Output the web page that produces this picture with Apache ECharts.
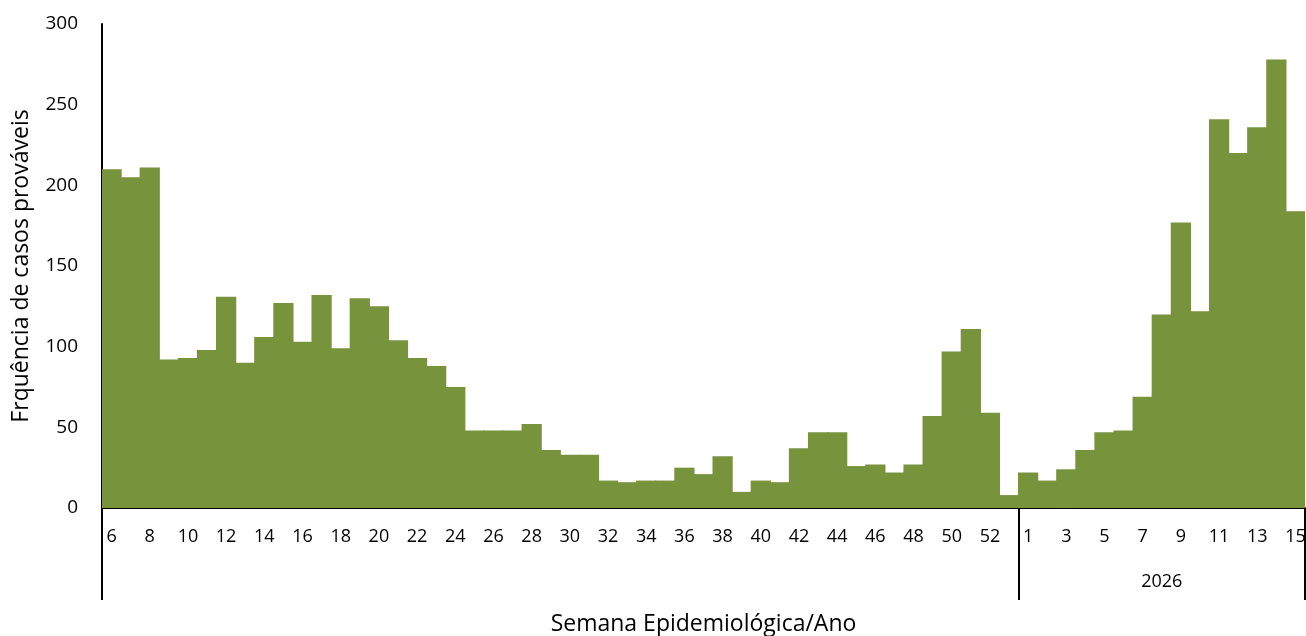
<!DOCTYPE html>
<html>
<head>
<meta charset="utf-8">
<script src="https://cdn.jsdelivr.net/npm/echarts@6/dist/echarts.min.js"></script>
<style>
html,body{margin:0;padding:0;background:#fff;}
#chart{width:1306px;height:636px;}
</style>
</head>
<body>
<div id="chart"></div>
<script>
// Epidemiological weeks (first year: weeks 6-53, then 2026: weeks 1-15)
const weeksYear1 = [6,7,8,9,10,11,12,13,14,15,16,17,18,19,20,21,22,23,24,25,26,27,28,29,30,31,32,33,34,35,36,37,38,39,40,41,42,43,44,45,46,47,48,49,50,51,52,53];
const casesYear1 = [210,205,211,92,93,98,131,90,106,127,103,132,99,130,125,104,93,88,75,48,48,48,52,36,33,33,17,16,17,17,25,21,32,10,17,16,37,47,47,26,27,22,27,57,97,111,59,8];
const weeksYear2 = [1,2,3,4,5,6,7,8,9,10,11,12,13,14,15];
const casesYear2 = [22,17,24,36,47,48,69,120,177,122,241,220,236,278,184];
const yearLabels = ['', '2026'];
const yTicks = [0, 50, 100, 150, 200, 250, 300];

const categories = weeksYear1.map(String).concat(weeksYear2.map(String));
const values = casesYear1.concat(casesYear2);
const groupSizes = [weeksYear1.length, weeksYear2.length];
const groupStarts = [0, weeksYear1.length];
const groupMid = groupStarts.map((s, i) => s + Math.floor(groupSizes[i] / 2));

const FONT = 'Open Sans';
const BAR = '#77933C';
const chart = echarts.init(document.getElementById('chart'));
chart.setOption({
  animation: false,
  backgroundColor: '#ffffff',
  textStyle: { fontFamily: FONT, color: '#000' },
  grid: { left: 102, right: 1, top: 24, bottom: 128, containLabel: false, outerBoundsMode: 'none' },
  xAxis: [
    {
      type: 'category',
      data: categories,
      position: 'bottom',
      boundaryGap: true,
      axisLine: { show: true, lineStyle: { color: '#000', width: 2 } },
      axisTick: { show: false },
      axisLabel: { interval: 1, fontSize: 18, color: '#000', margin: 20, fontFamily: FONT },
      name: 'Semana Epidemiológica/Ano',
      nameLocation: 'middle',
      nameGap: 105,
      nameTextStyle: { fontSize: 23, color: '#000', fontFamily: FONT }
    },
    {
      type: 'category',
      data: categories,
      position: 'bottom',
      boundaryGap: true,
      axisLine: { show: false },
      axisTick: {
        show: true,
        length: 92,
        interval: (idx) => groupStarts.indexOf(idx) >= 0,
        lineStyle: { color: '#000', width: 2 }
      },
      axisLabel: {
        interval: (idx) => groupMid.indexOf(idx) >= 0,
        formatter: (val, idx) => { const g = groupMid.indexOf(idx); return g >= 0 ? yearLabels[g] : ''; },
        fontSize: 18, color: '#000', margin: 65, fontFamily: FONT
      }
    }
  ],
  yAxis: {
    type: 'value',
    min: yTicks[0],
    max: yTicks[yTicks.length - 1],
    interval: yTicks[1] - yTicks[0],
    axisLine: { show: true, lineStyle: { color: '#000', width: 2 } },
    axisTick: { show: false },
    splitLine: { show: false },
    axisLabel: { fontSize: 19, color: '#000', margin: 24, fontFamily: FONT },
    name: 'Frquência de casos prováveis',
    nameLocation: 'middle',
    nameGap: 69,
    nameRotate: 90,
    nameTextStyle: { fontSize: 23, color: '#000', fontFamily: FONT }
  },
  series: [{
    type: 'bar',
    data: values,
    xAxisIndex: 0,
    barWidth: '106%',
    barGap: '-100%',
    itemStyle: { color: BAR }
  }]
});
</script>
</body>
</html>
